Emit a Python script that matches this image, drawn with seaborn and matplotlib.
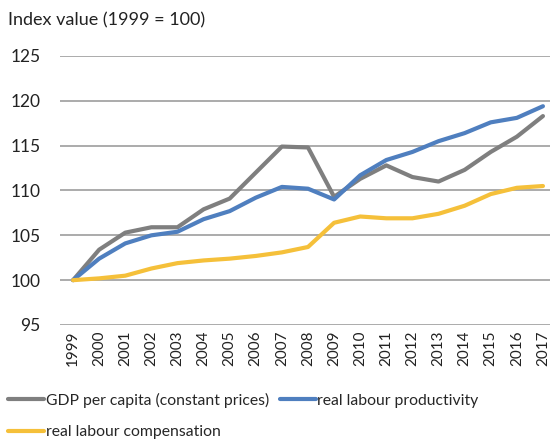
import numpy as np
import pandas as pd
import matplotlib.pyplot as plt
import seaborn as sns

years = list(range(1999, 2018))
year_labels = [str(y) for y in years]

gdp = [100, 103.4, 105.3, 105.9, 105.9, 107.9, 109.1, 112.0, 114.9, 114.8,
       109.3, 111.3, 112.8, 111.5, 111.0, 112.3, 114.3, 116.0, 118.3]
productivity = [100, 102.4, 104.1, 105.0, 105.4, 106.8, 107.7, 109.2, 110.4, 110.2,
                109.0, 111.7, 113.4, 114.3, 115.5, 116.4, 117.6, 118.1, 119.4]
compensation = [100, 100.2, 100.5, 101.3, 101.9, 102.2, 102.4, 102.7, 103.1, 103.7,
                106.4, 107.1, 106.9, 106.9, 107.4, 108.3, 109.6, 110.3, 110.5]

series_names = ['GDP per capita (constant prices)', 'real labour productivity',
                'real labour compensation']
series_colors = ['#7F7F7F', '#4F7FBF', '#F5C03A']

df = pd.DataFrame({
    'idx': list(range(len(years))) * 3,
    'value': gdp + productivity + compensation,
    'series': [series_names[0]] * len(years) + [series_names[1]] * len(years)
              + [series_names[2]] * len(years),
})

sns.set_style('white')
plt.rcParams['font.family'] = ['Lato', 'DejaVu Sans']

fig = plt.figure(figsize=(5.5, 4.47), dpi=100)
ax = fig.add_axes([60 / 550, 1 - 325 / 447, 496 / 550, (325 - 56) / 447])

ax.set_ylim(95, 125)
ax.set_yticks(np.arange(95, 126, 5))
ax.grid(axis='y', color='#959595', linewidth=1.1)
ax.set_axisbelow(True)

sns.lineplot(data=df, x='idx', y='value', hue='series', hue_order=series_names,
             palette=series_colors, linewidth=3, ax=ax, legend=False)

ax.set_xlim(-0.5, len(years) - 0.5)
ax.set_xticks(range(len(years)))
ax.set_xticklabels(year_labels, rotation=90, fontsize=11)
ax.tick_params(axis='y', labelsize=12.5, length=0, pad=14, labelcolor='#222222')
ax.tick_params(axis='x', length=0, pad=4, labelcolor='#222222')
ax.set_xlabel('')
ax.set_ylabel('')
for s in ax.spines.values():
    s.set_visible(False)

fig.text(8 / 550, 1 - 20 / 447, 'Index value (1999 = 100)', fontsize=13,
         va='center', ha='left', color='#222222')

handles = [plt.Line2D([], [], color=c, linewidth=3) for c in series_colors]
order = [0, 2, 1]
fig.legend([handles[i] for i in order], [series_names[i] for i in order],
           ncol=2, loc='lower left', bbox_to_anchor=(0.0, 0.0),
           frameon=False, fontsize=11.3, handlelength=2.3, handletextpad=0.1,
           columnspacing=0.7, labelspacing=1.1, borderaxespad=0.1)

fig.savefig('out.png', dpi=100)
